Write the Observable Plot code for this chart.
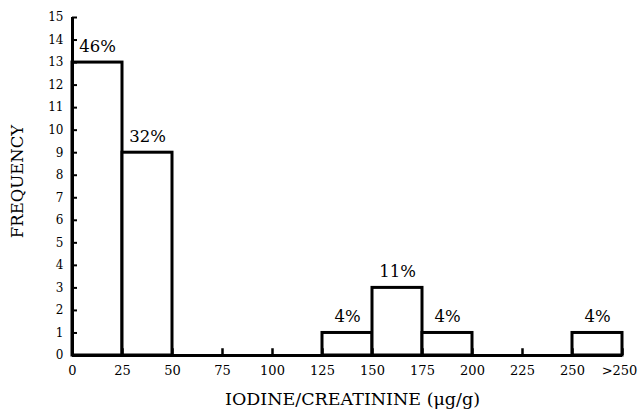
<!DOCTYPE html>
<html>
<head>
<meta charset="utf-8">
<script src="https://cdn.jsdelivr.net/npm/d3@7"></script>
<script src="https://cdn.jsdelivr.net/npm/@observablehq/plot@0.6"></script>
<style>
  html, body { margin: 0; padding: 0; background: #fff; }
  svg { display: block; }
</style>
</head>
<body>
<div id="chart"></div>
<script>
const binStart = [0, 25, 50, 75, 100, 125, 150, 175, 200, 225, 250];
const binEnd   = [25, 50, 75, 100, 125, 150, 175, 200, 225, 250, 275];
const counts   = [13, 9, 0, 0, 0, 1, 3, 1, 0, 0, 1];
const pctLabels = ["46%", "32%", "", "", "", "4%", "11%", "4%", "", "", "4%"];
const xTickValues = [0, 25, 50, 75, 100, 125, 150, 175, 200, 225, 250, 275];
const xTickLabels = ["0", "25", "50", "75", "100", "125", "150", "175", "200", "225", "250", ">250"];
const yTickValues = d3.range(0, 16);

const bins = binStart.map((s, i) => ({x1: s, x2: binEnd[i], y: counts[i], label: pctLabels[i]}));
const bars = bins.filter(d => d.y > 0);
const labelMap = new Map(xTickValues.map((v, i) => [v, xTickLabels[i]]));
const lastTick = xTickValues[xTickValues.length - 1];

const chart = Plot.plot({
  width: 639,
  height: 420,
  marginLeft: 72,
  marginRight: 17,
  marginTop: 17,
  marginBottom: 65,
  style: {fontFamily: "'DejaVu Serif', serif", color: "#000", background: "#fff"},
  x: {domain: [0, 275]},
  y: {domain: [0, 15]},
  marks: [
    Plot.rectY(bars, {x1: "x1", x2: "x2", y: "y", fill: "#fff", stroke: "#000", strokeWidth: 3}),
    Plot.text(bars, {x: d => (d.x1 + d.x2) / 2, y: "y", text: "label", dy: -16, fontSize: 16.5, fill: "#000"}),
    // inward ticks
    Plot.ruleY(yTickValues, {y: d => d, x1: 0, x2: 2.5, stroke: "#000", strokeWidth: 2}),
    Plot.ruleX(xTickValues, {x: d => d, y1: 0, y2: 0.3, stroke: "#000", strokeWidth: 2.5}),
    // axis lines
    Plot.ruleX([0], {y1: 0, y2: 15, stroke: "#000", strokeWidth: 3}),
    Plot.ruleY([0], {x1: 0, x2: 275, stroke: "#000", strokeWidth: 3}),
    Plot.axisY({ticks: yTickValues, tickSize: 0, tickPadding: 9, fontSize: 12, fill: "#000", label: null}),
    Plot.axisX({ticks: xTickValues.slice(0, -1), tickSize: 0, tickPadding: 10, fontSize: 13, fill: "#000", label: null, tickFormat: d => labelMap.get(d)}),
    Plot.axisX({ticks: [lastTick], tickSize: 0, tickPadding: 10, fontSize: 13, fill: "#000", label: null, dx: -3, tickFormat: d => labelMap.get(d)}),
    Plot.text(["FREQUENCY"], {frameAnchor: "left", textAnchor: "middle", dx: -55, dy: -5, rotate: -90, fontSize: 16.5, fill: "#000", text: d => d}),
    Plot.text(["IODINE/CREATININE (\u03bcg/g)"], {frameAnchor: "bottom", textAnchor: "middle", dx: 5, dy: 49, fontSize: 17.5, fill: "#000", text: d => d})
  ]
});
document.getElementById("chart").appendChild(chart);
</script>
</body>
</html>
